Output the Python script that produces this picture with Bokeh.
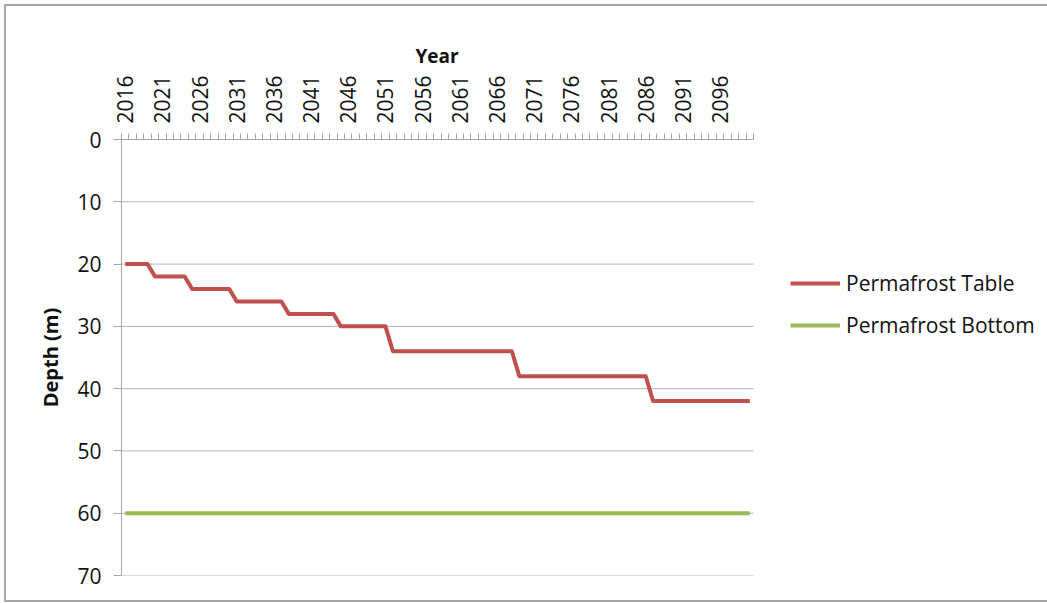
import math
from bokeh.plotting import figure
from bokeh.layouts import column
from bokeh.models import (FixedTicker, Range1d, Legend, LegendItem, ColumnDataSource, Title)
from bokeh.embed import file_html
from bokeh.resources import INLINE

years = list(range(2016, 2101))
permafrost_table = [
    20, 20, 20, 20,
    22, 22, 22, 22, 22,
    24, 24, 24, 24, 24, 24,
    26, 26, 26, 26, 26, 26, 26,
    28, 28, 28, 28, 28, 28, 28,
    30, 30, 30, 30, 30, 30, 30,
    34, 34, 34, 34, 34, 34, 34, 34, 34, 34, 34, 34, 34, 34, 34, 34, 34,
    38, 38, 38, 38, 38, 38, 38, 38, 38, 38, 38, 38, 38, 38, 38, 38, 38, 38,
    42, 42, 42, 42, 42, 42, 42, 42, 42, 42, 42, 42, 42, 42,
]
permafrost_bottom = [60] * 85
year_tick_labels = [2016, 2021, 2026, 2031, 2036, 2041, 2046, 2051, 2056,
                    2061, 2066, 2071, 2076, 2081, 2086, 2091, 2096]
depth_ticks = [0, 10, 20, 30, 40, 50, 60, 70]

RED = "#C0504D"
GREEN = "#9BBB59"
GRID = "#B3B3B3"
AXIS = "#A6A6A6"
TEXT = "#111111"
FONT = "Open Sans"

# layout (pixels inside the canvas)
W, H = 1041, 594
FRAME_L, FRAME_T, FRAME_B, FRAME_R = 115, 133, 25, 0
PLOT_W = 632  # width of the category area
frame_w = W - FRAME_L - FRAME_R
x0 = years[0] - 0.5
x1 = years[-1] + 0.5
x_end = x0 + (x1 - x0) * frame_w / PLOT_W

src = ColumnDataSource(dict(year=years, table=permafrost_table, bottom=permafrost_bottom))
grid_src = ColumnDataSource(dict(y=depth_ticks[1:],
                                 xs=[x0] * len(depth_ticks[1:]),
                                 xe=[x1] * len(depth_ticks[1:])))

fig = figure(width=W, height=H, output_backend="svg", toolbar_location=None,
             x_axis_location="above",
             x_range=Range1d(x0, x_end),
             y_range=Range1d(70, 0),
             min_border_left=FRAME_L, min_border_right=FRAME_R,
             min_border_top=FRAME_T, min_border_bottom=FRAME_B)
fig.outline_line_color = None
fig.background_fill_color = "white"
fig.border_fill_color = "white"
fig.xgrid.grid_line_color = None
fig.ygrid.grid_line_color = None

fig.segment(x0="xs", y0="y", x1="xe", y1="y", source=grid_src,
            line_color=GRID, line_width=1)

r1 = fig.line("year", "table", source=src, line_color=RED, line_width=4, line_join="round")
r2 = fig.line("year", "bottom", source=src, line_color=GREEN, line_width=4, line_join="round")

# x axis (top)
xa = fig.xaxis[0]
xa.bounds = (x0, x1)
xa.ticker = FixedTicker(ticks=year_tick_labels,
                        minor_ticks=[y - 0.5 for y in years] + [x1])
xa.major_tick_line_color = None
xa.major_tick_out = 6
xa.major_tick_in = 0
xa.minor_tick_out = 6
xa.minor_tick_in = 0
xa.minor_tick_line_color = AXIS
xa.axis_line_color = AXIS
xa.major_label_orientation = math.pi / 2
xa.major_label_text_font = FONT
xa.major_label_text_font_size = "21px"
xa.major_label_text_color = TEXT
xa.major_label_standoff = 10

# "Year" title centred over the category area
year_title = Title(text="Year", align="left", offset=PLOT_W / 2 - 22,
                   text_font=FONT, text_font_style="bold", text_font_size="19px",
                   text_color=TEXT, standoff=8)
fig.add_layout(year_title, "above")

# y axis
ya = fig.yaxis[0]
ya.ticker = FixedTicker(ticks=depth_ticks, minor_ticks=[])
ya.major_tick_out = 8
ya.major_tick_in = 0
ya.major_tick_line_color = AXIS
ya.minor_tick_line_color = None
ya.axis_line_color = AXIS
ya.major_label_text_font = FONT
ya.major_label_text_font_size = "21px"
ya.major_label_text_color = TEXT
ya.major_label_standoff = 12
ya.axis_label = "Depth (m)"
ya.axis_label_text_font = FONT
ya.axis_label_text_font_style = "bold"
ya.axis_label_text_font_size = "20px"
ya.axis_label_text_color = TEXT
ya.axis_label_standoff = 10

legend = Legend(items=[LegendItem(label="Permafrost Table", renderers=[r1]),
                       LegendItem(label="Permafrost Bottom", renderers=[r2])],
                location=(669, 236))
legend.border_line_color = None
legend.background_fill_alpha = 0
legend.padding = 0
legend.margin = 0
legend.glyph_width = 50
legend.glyph_height = 28
legend.label_height = 28
legend.spacing = 14
legend.label_standoff = 6
legend.label_text_font = FONT
legend.label_text_font_size = "21px"
legend.label_text_color = TEXT
fig.add_layout(legend, "center")

p = column(fig)
p.margin = (4, 0, 0, 4)
p.styles = {"border-top": "2px solid #A6A6A6", "border-left": "2px solid #A6A6A6",
            "border-bottom": "2px solid #A6A6A6"}

open("out.html", "w").write(file_html(p, INLINE))
